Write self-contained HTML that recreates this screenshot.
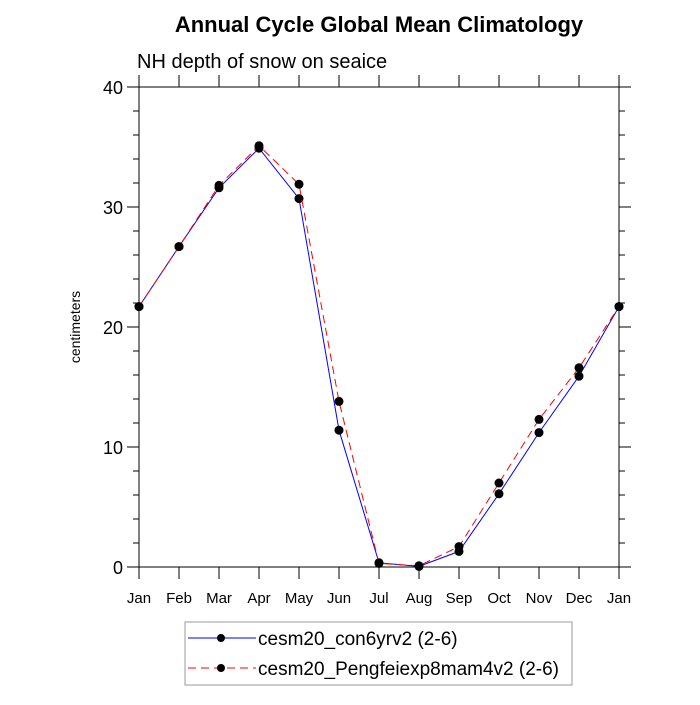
<!DOCTYPE html>
<html><head><meta charset="utf-8"><style>
body{margin:0;background:#fff}
svg text{font-family:"Liberation Sans",sans-serif}
</style></head><body>
<svg id="chart" width="700" height="700" viewBox="0 0 700 700" xmlns="http://www.w3.org/2000/svg">
<rect width="700" height="700" fill="#fff"/>
<text x="379" y="32" text-anchor="middle" font-size="22" font-weight="bold">Annual Cycle Global Mean Climatology</text>
<text x="137" y="68" font-size="20">NH depth of snow on seaice</text>
<text transform="translate(80,327) rotate(-90)" text-anchor="middle" font-size="14">centimeters</text>
<g id="axes"></g>
<g id="series"></g>
<g>
<rect x="185" y="622" width="387" height="63" fill="#fff" stroke="#999" stroke-width="1"/>
<g>
<line x1="188" y1="638" x2="256" y2="638" stroke="#0000ff" stroke-width="1"/>
<circle cx="221" cy="638" r="4" fill="#000"/>
<text x="258" y="645" font-size="19">cesm20_con6yrv2 (2-6)</text>
</g>
<g>
<line x1="188" y1="668" x2="256" y2="668" stroke="#ff0000" stroke-width="1" stroke-dasharray="8,5"/>
<circle cx="221" cy="668" r="4" fill="#000"/>
<text x="258" y="675" font-size="19">cesm20_Pengfeiexp8mam4v2 (2-6)</text>
</g>
</g>
</svg>
<script>
const months = ["Jan","Feb","Mar","Apr","May","Jun","Jul","Aug","Sep","Oct","Nov","Dec","Jan"];
const seriesCon = [21.7,26.7,31.6,34.9,30.7,11.4,0.35,0.05,1.3,6.1,11.2,15.9,21.7];
const seriesPeng = [21.7,26.7,31.8,35.1,31.9,13.8,0.3,0.1,1.7,7.0,12.3,16.6,21.7];
const yTicks = [0,10,20,30,40];
const yMinor = [2,4,6,8,12,14,16,18,22,24,26,28,32,34,36,38];

const L=139,R=619,T=87,B=567,yMin=0,yMax=40;
const xs=i=>L+(R-L)*i/(months.length-1);
const ys=v=>B-(B-T)*(v-yMin)/(yMax-yMin);
const NS="http://www.w3.org/2000/svg";
function mk(tag,attrs,parent){const e=document.createElementNS(NS,tag);for(const k in attrs)e.setAttribute(k,attrs[k]);parent.appendChild(e);return e;}
const ax=document.getElementById('axes');
const frame=mk('rect',{x:L,y:T,width:R-L,height:B-T,fill:'none',stroke:'#000','stroke-width':1},ax);


months.forEach((m,i)=>{
  const x=xs(i);
  mk('line',{x1:x,y1:B,x2:x,y2:B+12,stroke:'#000'},ax);
  mk('line',{x1:x,y1:T,x2:x,y2:T-12,stroke:'#000'},ax);
  const t=mk('text',{x:x,y:B+36,'text-anchor':'middle','font-size':15},ax);
  t.textContent=m;
  
  
});
yTicks.forEach(v=>{
  const y=ys(v);
  mk('line',{x1:L-12,y1:y,x2:L,y2:y,stroke:'#000'},ax);
  mk('line',{x1:R,y1:y,x2:R+12,y2:y,stroke:'#000'},ax);
  const t=mk('text',{x:L-16,y:y+7,'text-anchor':'end','font-size':18},ax);
  t.textContent=v;
  
  
});
yMinor.forEach(v=>{
  const y=ys(v);
  mk('line',{x1:L-6,y1:y,x2:L,y2:y,stroke:'#000'},ax);
  mk('line',{x1:R,y1:y,x2:R+6,y2:y,stroke:'#000'},ax);
});
const sg=document.getElementById('series');
function draw(vals,color,dash,name){
  const g=mk('g',{},sg);
  
  
  const pts=vals.map((v,i)=>xs(i)+','+ys(v)).join(' ');
  const a={points:pts,fill:'none',stroke:color,'stroke-width':1};
  if(dash)a['stroke-dasharray']=dash;
  mk('polyline',a,g);
  vals.forEach((v,i)=>{
    const c=mk('circle',{cx:xs(i),cy:ys(v),r:4.5,fill:'#000'},g);
    
    
  });
}
draw(seriesCon,'#0000ff',null,'series-con6yrv2');
draw(seriesPeng,'#ff0000','8,5','series-pengfei');
</script>
</body></html>
